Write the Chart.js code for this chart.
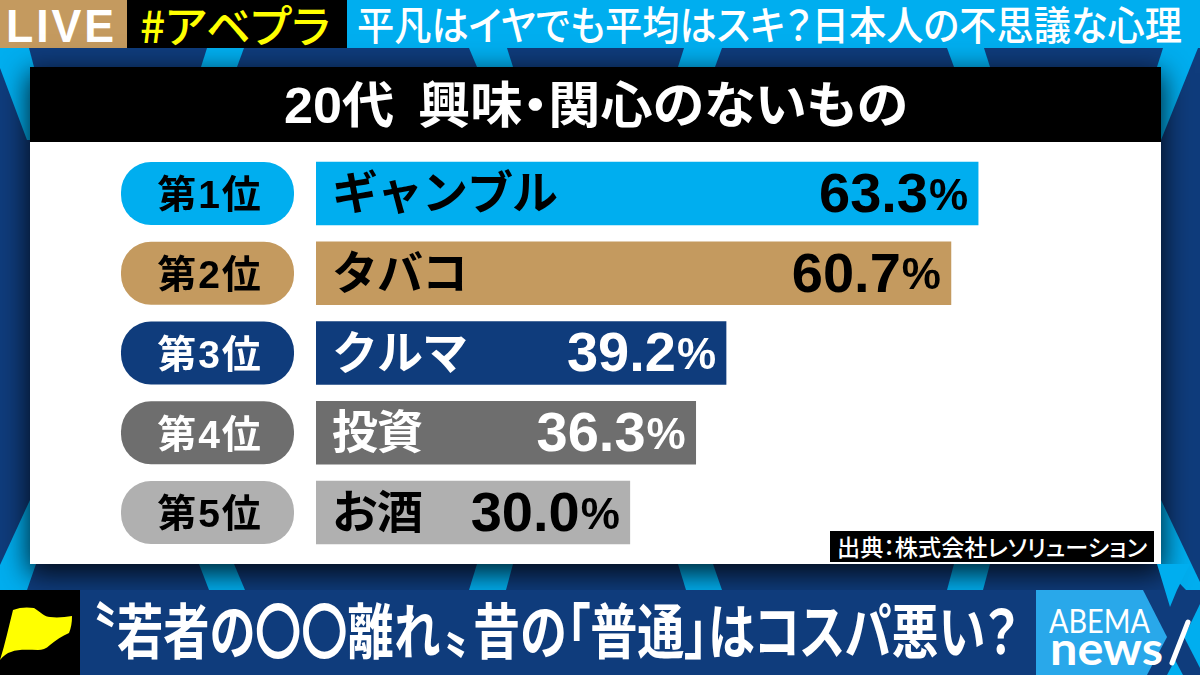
<!DOCTYPE html>
<html lang="ja">
<head>
<meta charset="utf-8">
<script src="https://cdn.jsdelivr.net/npm/chart.js@4"></script>
<style>
  html, body { margin: 0; padding: 0; }
  body { width: 1200px; height: 675px; overflow: hidden; position: relative; background: #0f3c7c;
         font-family: "Liberation Sans", "Noto Sans CJK JP", sans-serif; }
  .box { position: absolute; }
  .txt { position: absolute; white-space: nowrap; font-weight: 700; line-height: 1; transform-origin: 0 50%;
         font-feature-settings: "palt"; }
  #panel { left: 30px; top: 67px; width: 1131px; height: 497px; background: #fff; box-shadow: 0 8px 26px 2px rgba(0,0,0,.8); }
  #chart { position: absolute; left: 0; top: 0; }
</style>
</head>
<body>

<!-- background stripes -->
<svg class="box" style="left:0;top:0" width="1200" height="675">
  <g fill="#00aeef">
    <polygon points="0,48 29,48 34,67 30,140 27,140 0,68"/>
    <polygon points="207,48 244,48 237,67 201,67"/>
    <polygon points="469,48 507,48 513,67 477,67"/>
    <polygon points="684,48 722,48 715,67 678,67"/>
    <polygon points="947,48 984,48 990,67 954,67"/>
    <polygon points="1163,48 1198,48 1161,140 1157,67"/>
    <polygon points="30,500 36,564 27,590 0,590 0,565"/>
    <polygon points="199,564 234,564 245,590 209,590"/>
    <polygon points="477,564 513,564 506,590 469,590"/>
    <polygon points="678,564 713,564 722,590 686,590"/>
    <polygon points="954,564 990,564 983,590 947,590"/>
    <polygon points="1161,500 1200,582 1200,590 1186,590 1161,564"/>
  </g>
</svg>

<!-- top band -->
<div class="box" style="left:0;top:0;width:1200px;height:48px;background:#00aeef"></div>
<div class="box" style="left:0;top:0;width:127px;height:48px;background:#c49a5f"></div>
<div class="box" style="left:127px;top:0;width:220px;height:48px;background:#000"></div>
<div class="txt" data-w="111" style="left:6px;top:3px;font-size:46px;color:#fff;letter-spacing:3px">LIVE</div>
<div class="txt" data-w="190" style="left:140px;top:2px;font-size:44px;color:#ffff00;font-weight:500;font-family:'Noto Sans CJK JP'">#アベプラ</div>
<div class="txt" data-w="825" style="left:357px;top:3px;font-size:40px;color:#fff;font-weight:500;font-family:'Noto Sans CJK JP'">平凡はイヤでも平均はスキ？日本人の不思議な心理</div>

<!-- panel -->
<div class="box" id="panel"></div>
<div class="box" style="left:30px;top:67px;width:1131px;height:75px;background:#000"></div>
<div class="txt" data-w="624" style="left:284px;top:81px;font-size:50px;color:#fff;word-spacing:9px">20代 興味・関心のないもの</div>
<div class="box" style="left:830px;top:531px;width:324px;height:31px;background:#000"></div>
<div class="txt" data-w="310" style="left:837px;top:535px;font-size:23px;color:#fff;font-weight:500;font-family:'Noto Sans CJK JP'">出典：株式会社レソリューション</div>

<!-- bottom band -->
<div class="box" style="left:0;top:590px;width:1200px;height:85px;background:#0f3c7c"></div>
<svg class="box" style="left:0;top:564px" width="1200" height="111">
  <rect x="0" y="26" width="80" height="85" fill="#000"/>
  <path d="M13,46 C20,43 28,43 34,44 C40,48 45,53 50,53 C58,54 65,53 72,52 C72,59 71,64 69,69 C62,72 56,76 50,81 C46,85 42,86 38,86 C28,86 18,85 11,88 C7,89 3,92 0,96 C5,80 9,62 13,46 Z" fill="#ffff00"/>
  <polygon points="1036,26 1143,26 1167,73 1147,111 1036,111" fill="#29a8ea"/>
  <polygon points="1157,0 1190,0 1177,26 1170,43" fill="#00aeef"/>
  <polygon points="1200,40 1184,73 1200,104" fill="#00aeef"/>
  <polygon points="1175,96 1167,111 1183,111" fill="#00aeef"/>
  <line x1="1188" y1="58" x2="1172" y2="99" stroke="#fff" stroke-width="5" stroke-linecap="round"/>
</svg>
<div class="txt" style="left:85px;top:597px;font-size:60px;color:#fff;font-family:'Noto Sans CJK JP'">〝</div>
<div class="txt" data-w="323" style="left:117px;top:598px;font-size:60px;color:#fff;font-family:'Noto Sans CJK JP'">若者の〇〇離れ</div>
<div class="txt" style="left:446px;top:596px;font-size:60px;color:#fff;font-family:'Noto Sans CJK JP'">〟</div>
<div class="txt" data-w="545" style="left:473px;top:598px;font-size:60px;color:#fff;font-family:'Noto Sans CJK JP'">昔の「普通」はコスパ悪い？</div>
<div class="txt" data-w="101" style="left:1049px;top:604px;font-size:33px;color:#fff;font-weight:400;font-family:Lato">ABEMA</div>
<div class="txt" data-w="113" style="left:1050px;top:625px;font-size:46px;color:#fff;font-weight:700;font-family:Lato">news</div>

<canvas id="chart" width="1200" height="675"></canvas>

<script>
const categories = ["ギャンブル", "タバコ", "クルマ", "投資", "お酒"];
const ranks = ["第1位", "第2位", "第3位", "第4位", "第5位"];
const values = [63.3, 60.7, 39.2, 36.3, 30.0];

const barColors = ["#00aeef", "#c49a5f", "#0f3c7c", "#6e6e6e", "#b0b0b0"];
const textColors = ["#000", "#000", "#fff", "#fff", "#000"];

const sansFont = '"Liberation Sans", "Noto Sans CJK JP", sans-serif';

// pills on the left and the text inside the bars
const barLabels = {
  id: "barLabels",
  afterDatasetsDraw(chart) {
    const ctx = chart.ctx;
    chart.getDatasetMeta(0).data.forEach((bar, i) => {
      const top = bar.y - bar.height / 2;

      ctx.save();
      ctx.fillStyle = barColors[i];
      ctx.beginPath();
      ctx.roundRect(121, top, 173, bar.height, 30);
      ctx.fill();

      ctx.fillStyle = textColors[i];
      ctx.textBaseline = "middle";

      ctx.font = "bold 39px " + sansFont;
      ctx.textAlign = "center";
      ctx.letterSpacing = "2px";
      ctx.fillText(ranks[i], 210, bar.y + 4);

      ctx.font = "bold 46px " + sansFont;
      ctx.textAlign = "left";
      ctx.letterSpacing = "-1px";
      ctx.fillText(categories[i], bar.base + 16, bar.y + 3);
      ctx.letterSpacing = "0px";

      ctx.font = "bold 44px " + sansFont;
      ctx.textAlign = "right";
      ctx.fillText("%", bar.x - 10, bar.y + 4);
      const pctWidth = ctx.measureText("%").width;
      ctx.font = "bold 56px " + sansFont;
      ctx.fillText(values[i].toFixed(1), bar.x - 10 - pctWidth - 1, bar.y + 3);
      ctx.restore();
    });
  }
};

new Chart(document.getElementById("chart"), {
  type: "bar",
  data: {
    labels: categories,
    datasets: [{
      data: values,
      backgroundColor: barColors,
      barThickness: 63,
      borderWidth: 0
    }]
  },
  options: {
    indexAxis: "y",
    responsive: false,
    animation: false,
    layout: { padding: { left: 316, right: 47.2, top: 153.6, bottom: 122.6 } },
    plugins: { legend: { display: false }, tooltip: { enabled: false } },
    scales: {
      x: { display: false, min: 0, max: 80 },
      y: { display: false }
    }
  },
  plugins: [barLabels]
});

// squeeze the caption texts to the width they have in the picture
document.querySelectorAll(".txt[data-w]").forEach(el => {
  const w = el.getBoundingClientRect().width;
  el.style.transform = "scaleX(" + (Number(el.dataset.w) / w) + ")";
});
</script>
</body>
</html>
